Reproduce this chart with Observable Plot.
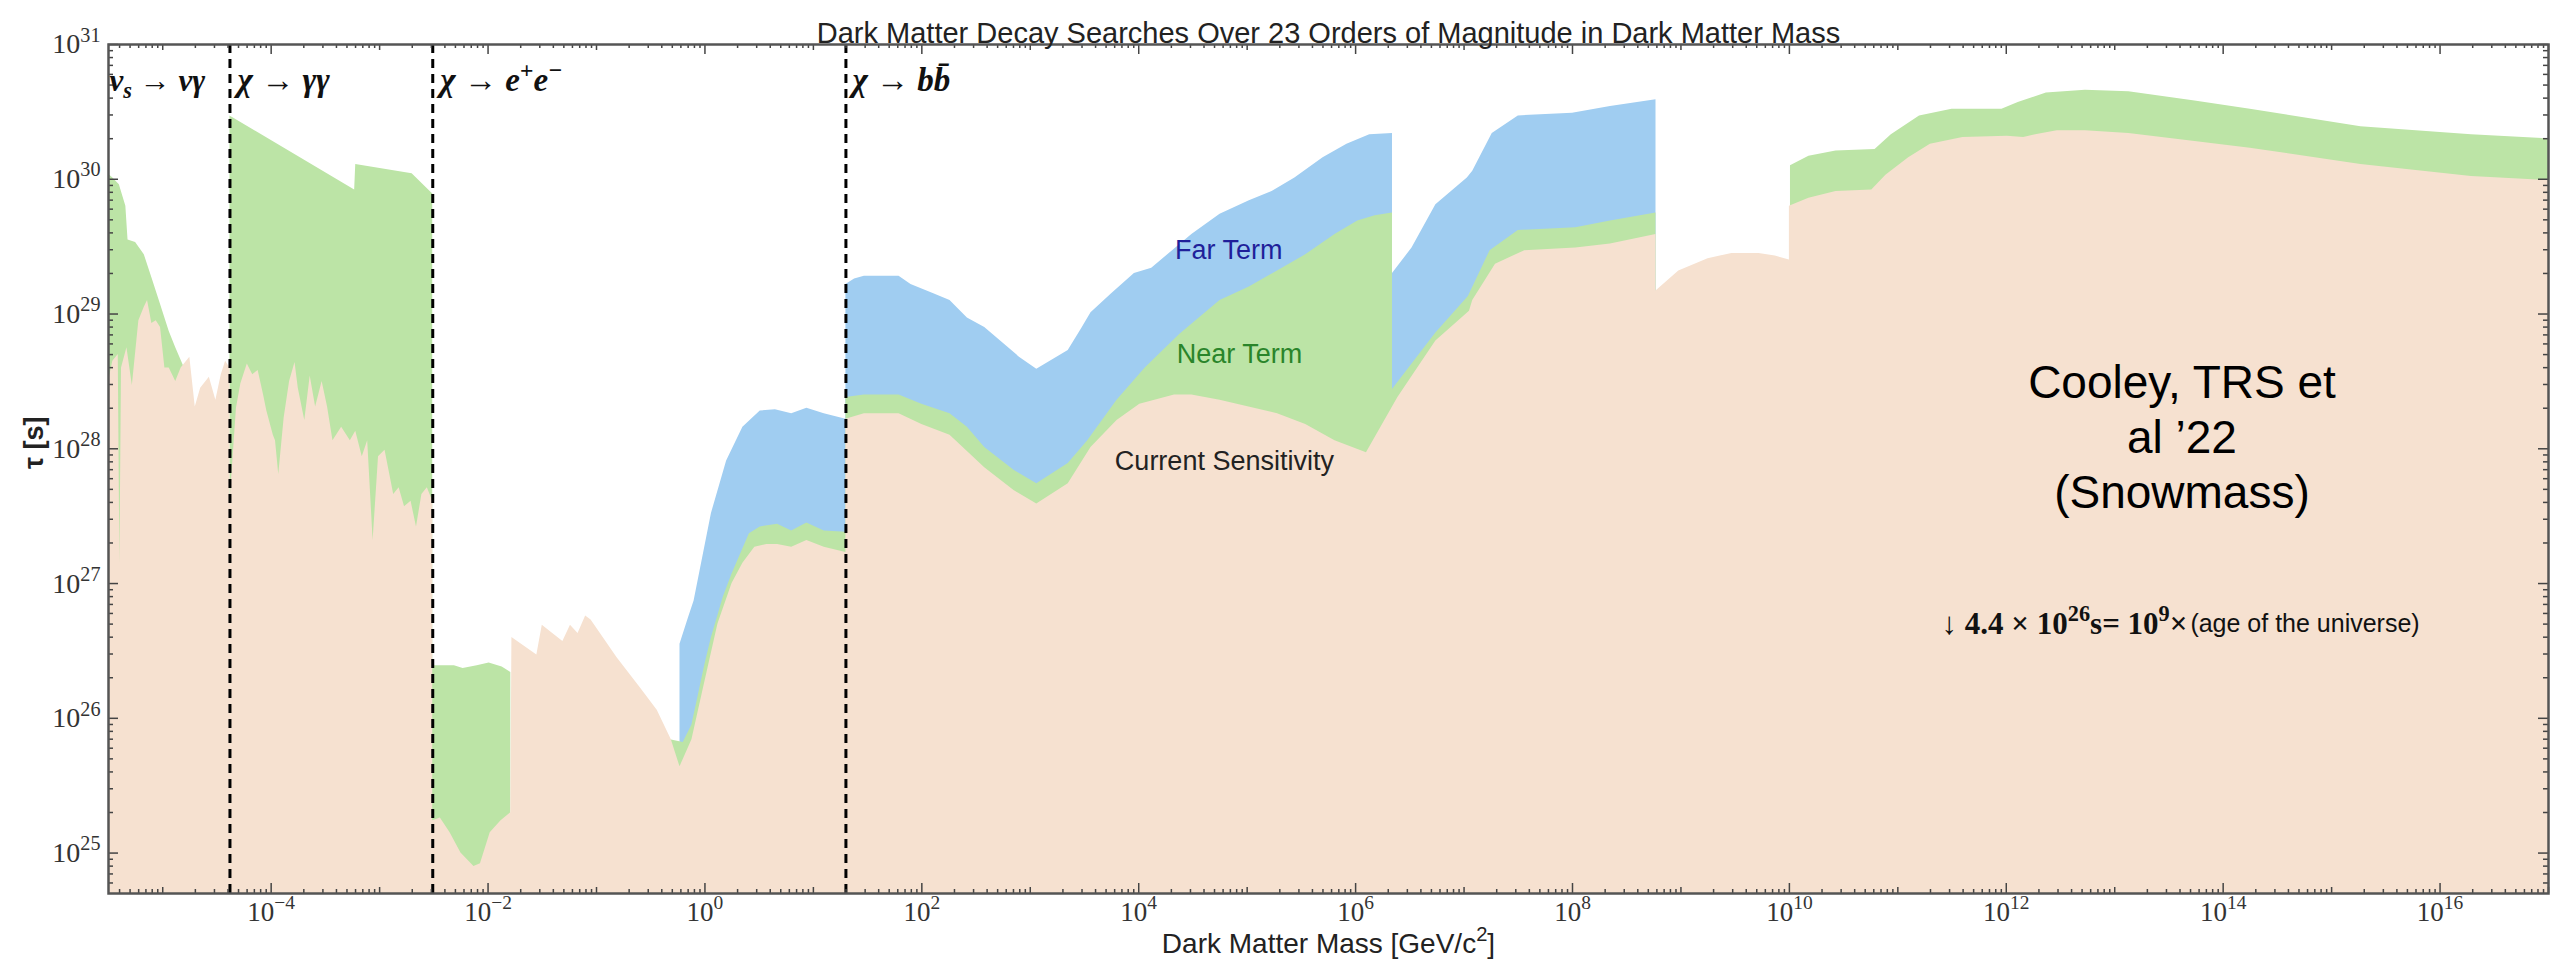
<!DOCTYPE html>
<html>
<head>
<meta charset="utf-8">
<script src="https://cdn.jsdelivr.net/npm/d3@7"></script>
<script src="https://cdn.jsdelivr.net/npm/@observablehq/plot@0.6"></script>
<style>
  html, body { margin: 0; padding: 0; background: #fff; overflow: hidden; }
  #chart { width: 2567px; height: 967px; }
</style>
</head>
<body>
<div id="chart"></div>
<script>
// ---- Data (log10 of mass in GeV/c^2, log10 of lifetime in s) ----
const titleText = "Dark Matter Decay Searches Over 23 Orders of Magnitude in Dark Matter Mass";
const xLabelText = "Dark Matter Mass [GeV/c^{2}]";
const yLabelText = "τ [s]";

const channelLabels = ["ν_{s} → νγ", "χ → γγ", "χ → e^{+}e^{−}", "χ → bb\u0304"];
const channelLabelExp = [-5.49, -4.31, -2.44, 1.36];
const channelBoundaryExp = [-4.38, -2.51, 1.30];

const xTickExp = [-4, -2, 0, 2, 4, 6, 8, 10, 12, 14, 16];
const yTickExp = [25, 26, 27, 28, 29, 30, 31];

// Current sensitivity [log10 m, log10 tau]
const currentSensitivity = [
  [-5.52, 29.25], [-5.50, 28.50], [-5.46, 28.65], [-5.41, 28.70], [-5.395, 27.15], [-5.38, 28.60],
  [-5.33, 28.75], [-5.28, 28.47], [-5.22, 28.95], [-5.17, 29.05], [-5.14, 29.10], [-5.10, 28.93],
  [-5.06, 28.95], [-5.02, 28.90], [-4.98, 28.60], [-4.94, 28.60], [-4.88, 28.50], [-4.83, 28.60],
  [-4.78, 28.65], [-4.75, 28.68], [-4.70, 28.31], [-4.65, 28.45], [-4.57, 28.53], [-4.51, 28.36],
  [-4.46, 28.55], [-4.42, 28.65], [-4.38, 28.60],
  [-4.38, 27.60], [-4.32, 28.30], [-4.28, 28.48], [-4.22, 28.63], [-4.17, 28.55], [-4.12, 28.58],
  [-4.07, 28.40], [-4.04, 28.28], [-3.98, 28.10], [-3.96, 28.06], [-3.93, 27.81], [-3.88, 28.23],
  [-3.83, 28.50], [-3.78, 28.64], [-3.75, 28.45], [-3.69, 28.21], [-3.64, 28.54], [-3.59, 28.31],
  [-3.53, 28.50], [-3.48, 28.31], [-3.43, 28.06], [-3.35, 28.16], [-3.27, 28.06], [-3.22, 28.13],
  [-3.16, 27.94], [-3.11, 28.06], [-3.06, 27.32], [-3.01, 27.94], [-2.95, 27.99], [-2.87, 27.66],
  [-2.82, 27.71], [-2.77, 27.57], [-2.71, 27.61], [-2.66, 27.42], [-2.61, 27.66], [-2.56, 27.71],
  [-2.51, 27.61],
  [-2.51, 25.24], [-2.44, 25.26], [-2.35, 25.15], [-2.25, 25.00], [-2.13, 24.90], [-2.07, 24.92],
  [-1.98, 25.15], [-1.88, 25.24], [-1.79, 25.30],
  [-1.78, 26.60], [-1.55, 26.47], [-1.50, 26.69], [-1.31, 26.57], [-1.24, 26.69], [-1.17, 26.63],
  [-1.10, 26.76], [-1.05, 26.73], [-0.81, 26.45], [-0.60, 26.23], [-0.44, 26.06], [-0.31, 25.84],
  [-0.23, 25.64], [-0.12, 25.84], [-0.02, 26.20], [0.12, 26.70], [0.25, 27.00], [0.35, 27.15],
  [0.46, 27.27], [0.57, 27.29], [0.67, 27.29], [0.80, 27.27], [0.94, 27.32], [1.10, 27.27], [1.30, 27.23],
  [1.30, 28.22], [1.47, 28.26], [1.79, 28.26], [2.00, 28.18], [2.26, 28.10], [2.58, 27.86],
  [2.85, 27.69], [3.06, 27.59], [3.35, 27.74], [3.56, 28.01], [3.80, 28.21], [4.01, 28.33],
  [4.33, 28.40], [4.49, 28.40], [4.75, 28.36], [5.28, 28.26], [5.54, 28.18], [5.81, 28.06],
  [6.10, 27.97], [6.39, 28.38], [6.74, 28.80], [7.05, 29.02], [7.08, 29.10], [7.29, 29.37],
  [7.56, 29.47], [8.03, 29.49], [8.35, 29.52], [8.77, 29.59],
  [8.77, 29.17], [8.98, 29.32], [9.25, 29.41], [9.47, 29.45], [9.72, 29.45], [9.87, 29.43], [10.00, 29.40],
  [10.00, 29.80], [10.18, 29.86], [10.43, 29.91], [10.76, 29.92], [10.89, 30.03], [11.10, 30.16],
  [11.30, 30.26], [11.60, 30.31], [12.01, 30.32], [12.16, 30.31], [12.27, 30.33], [12.47, 30.36],
  [12.73, 30.36], [13.13, 30.34], [13.74, 30.28], [14.25, 30.23], [15.27, 30.11], [16.29, 30.02],
  [17.00, 29.99]
];

// Near term [log10 m, log10 tau, segment]
const nearTerm = [
  [-5.52, 30.05, 1], [-5.46, 30.01, 1], [-5.40, 29.96, 1], [-5.34, 29.80, 1], [-5.32, 29.55, 1],
  [-5.25, 29.53, 1], [-5.17, 29.44, 1], [-5.10, 29.27, 1], [-5.02, 29.07, 1], [-4.94, 28.87, 1],
  [-4.88, 28.75, 1], [-4.80, 28.60, 1],
  [-4.38, 30.47, 2], [-3.23, 29.92, 2], [-3.22, 30.11, 2], [-2.70, 30.04, 2], [-2.51, 29.89, 2],
  [-2.51, 26.39, 2], [-2.31, 26.39, 2], [-2.23, 26.37, 2], [-2.10, 26.39, 2], [-1.99, 26.41, 2],
  [-1.87, 26.38, 2], [-1.79, 26.34, 2],
  [-0.32, 25.84, 3], [-0.20, 25.82, 3], [-0.12, 25.95, 3], [0.00, 26.40, 3], [0.06, 26.60, 3],
  [0.17, 26.90, 3], [0.25, 27.07, 3], [0.41, 27.37, 3], [0.51, 27.42, 3], [0.67, 27.44, 3],
  [0.80, 27.39, 3], [0.94, 27.45, 3], [1.10, 27.39, 3], [1.30, 27.38, 3],
  [1.30, 28.38, 3], [1.47, 28.40, 3], [1.79, 28.40, 3], [2.00, 28.33, 3], [2.26, 28.26, 3],
  [2.42, 28.16, 3], [2.58, 28.01, 3], [2.85, 27.84, 3], [3.06, 27.74, 3], [3.35, 27.89, 3],
  [3.53, 28.06, 3], [3.80, 28.36, 3], [4.06, 28.60, 3], [4.38, 28.85, 3], [4.75, 29.10, 3],
  [5.02, 29.20, 3], [5.28, 29.32, 3], [5.54, 29.44, 3], [5.81, 29.59, 3], [6.02, 29.69, 3],
  [6.18, 29.73, 3], [6.34, 29.75, 3],
  [6.34, 28.44, 3], [6.74, 28.86, 3], [7.04, 29.13, 3], [7.24, 29.47, 3], [7.50, 29.62, 3],
  [8.03, 29.64, 3], [8.35, 29.69, 3], [8.77, 29.75, 3],
  [10.01, 30.10, 4], [10.18, 30.17, 4], [10.43, 30.21, 4], [10.79, 30.22, 4], [10.94, 30.33, 4],
  [11.20, 30.47, 4], [11.50, 30.52, 4], [11.96, 30.52, 4], [12.11, 30.57, 4], [12.37, 30.64, 4],
  [12.73, 30.66, 4], [13.13, 30.65, 4], [13.74, 30.58, 4], [14.25, 30.52, 4], [15.27, 30.39, 4],
  [16.29, 30.33, 4], [17.00, 30.30, 4]
];

// Far term [log10 m, log10 tau]
const farTerm = [
  [-0.23, 26.55], [-0.15, 26.75], [-0.10, 26.87], [0.06, 27.52], [0.20, 27.91], [0.35, 28.16],
  [0.51, 28.28], [0.65, 28.29], [0.80, 28.26], [0.94, 28.30], [1.10, 28.26], [1.30, 28.22],
  [1.30, 29.22], [1.38, 29.26], [1.47, 29.28], [1.79, 29.28], [1.90, 29.22], [2.11, 29.15],
  [2.26, 29.10], [2.42, 28.97], [2.58, 28.90], [2.90, 28.68], [3.06, 28.59], [3.35, 28.73],
  [3.48, 28.90], [3.56, 29.01], [3.75, 29.15], [3.96, 29.30], [4.12, 29.34], [4.49, 29.59],
  [4.75, 29.74], [5.02, 29.84], [5.23, 29.91], [5.44, 30.01], [5.70, 30.16], [5.92, 30.26],
  [6.13, 30.33], [6.34, 30.34],
  [6.34, 29.30], [6.52, 29.49], [6.74, 29.81], [7.03, 30.01], [7.08, 30.06], [7.26, 30.34],
  [7.50, 30.47], [8.00, 30.49], [8.35, 30.54], [8.77, 30.59]
];

const seriesLabels = ["Far Term", "Near Term", "Current Sensitivity"];
const seriesLabelPos = [[4.83, 29.47], [4.93, 28.70], [4.79, 27.91]];
const seriesFill = ["#a0cdf1", "#bce4a6", "#f6e1d0"];
const seriesTextColor = ["#1f1f9a", "#2a852a", "#222222"];

const creditText = "Cooley, TRS et\nal ’22\n(Snowmass)";
const creditPos = [13.62, 28.10];
const ageMath = "↓ 4.4 × 10^{26}s= 10^{9}×";
const ageWords = "(age of the universe)";
const agePos = [13.67, 26.70];

// ---- Layout ----
const W = 2567, H = 967;
const mL = 108, mR = 19, mT = 44, mB = 74;
const frameW = W - mL - mR, frameH = H - mT - mB;
const xDomain = [10 ** -5.5, 10 ** 17];
const yDomain = [10 ** 24.7, 1e31];
const yBase = yDomain[0];

const pow10 = v => {
  const e = Math.round(Math.log10(v));
  return "10^{" + (e < 0 ? "−" + (-e) : e) + "}";
};

const toRows = (arr, name) => arr.map(d => ({m: 10 ** d[0], tau: 10 ** d[1], seg: name + (d[2] ?? 0)}));
const rowsCurrent = toRows(currentSensitivity, "c");
const rowsNear = toRows(nearTerm, "n");
const rowsFar = toRows(farTerm, "f");

// ticks
const xMajor = d3.range(-5, 18).map(e => 10 ** e);
const xLabeled = xTickExp.map(e => 10 ** e);
const xOdd = xMajor.filter(v => !xTickExp.includes(Math.round(Math.log10(v))));
const xMinor = [];
for (let e = -6; e <= 16; e++) for (let s = 2; s <= 9; s++) {
  const v = s * 10 ** e;
  if (v > xDomain[0] && v < xDomain[1]) xMinor.push(v);
}
const yMajor = yTickExp.map(e => 10 ** e);
const yMinor = [];
for (let e = 24; e <= 30; e++) for (let s = 2; s <= 9; s++) {
  const v = s * 10 ** e;
  if (v > yDomain[0] && v < yDomain[1]) yMinor.push(v);
}
const tickColor = "#444";
const xTickMarks = (vals, len) => [
  Plot.tickX(vals, {x: d => d, insetTop: frameH - len, stroke: tickColor, strokeWidth: 1.5}),
  Plot.tickX(vals, {x: d => d, insetBottom: frameH - len, stroke: tickColor, strokeWidth: 1.5})
];
const yTickMarks = (vals, len) => [
  Plot.tickY(vals, {y: d => d, insetRight: frameW - len, stroke: tickColor, strokeWidth: 1.5}),
  Plot.tickY(vals, {y: d => d, insetLeft: frameW - len, stroke: tickColor, strokeWidth: 1.5})
];

const serif = "'Liberation Serif', 'DejaVu Serif', serif";
const sans = "'Liberation Sans', Arial, Helvetica, sans-serif";

const chart = Plot.plot({
  width: W, height: H,
  marginLeft: mL, marginRight: mR, marginTop: mT, marginBottom: mB,
  style: {background: "#fff", fontFamily: sans},
  x: {type: "log", domain: xDomain},
  y: {type: "log", domain: yDomain},
  marks: [
    Plot.areaY(rowsFar, {x: "m", y1: yBase, y2: "tau", z: "seg", fill: seriesFill[0], clip: true}),
    Plot.areaY(rowsNear, {x: "m", y1: yBase, y2: "tau", z: "seg", fill: seriesFill[1], clip: true}),
    Plot.areaY(rowsCurrent, {x: "m", y1: yBase, y2: "tau", z: "seg", fill: seriesFill[2], clip: true}),
    Plot.ruleX(channelBoundaryExp, {x: d => 10 ** d, stroke: "#000", strokeWidth: 3, strokeDasharray: "9,6"}),
    ...xTickMarks(xLabeled, 10),
    ...xTickMarks(xOdd, 6),
    ...xTickMarks(xMinor, 4),
    ...yTickMarks(yMajor, 10),
    ...yTickMarks(yMinor, 5),
    Plot.frame({stroke: "#555", strokeWidth: 2.5}),
    Plot.axisX({ticks: xLabeled, tickFormat: pow10, tickSize: 0, tickPadding: 8, fontSize: 27, fontFamily: serif, fill: "#333", label: null}),
    Plot.axisY({ticks: yMajor, tickFormat: pow10, tickSize: 0, tickPadding: 8, fontSize: 28, fontFamily: serif, fill: "#333", label: null}),
    // axis labels and title
    Plot.text([titleText], {frameAnchor: "top", dy: -22, fontSize: 29, fontFamily: sans, fill: "#222"}),
    Plot.text([xLabelText], {frameAnchor: "bottom", dy: 59, fontSize: 28, fontFamily: sans, fill: "#222"}),
    Plot.text([yLabelText], {frameAnchor: "left", dx: -74, rotate: -90, fontSize: 27, fontWeight: "bold", fontFamily: sans, fill: "#222"}),
    // decay channel labels
    Plot.text(channelLabels, {x: (d, i) => 10 ** channelLabelExp[i], y: 10 ** 30.73, textAnchor: "start", fontSize: (d, i) => (i === 0 ? 31 : 33), fontStyle: "italic", fontWeight: "bold", fontFamily: serif, fill: "#111"}),
    // series labels
    Plot.text(seriesLabels, {x: (d, i) => 10 ** seriesLabelPos[i][0], y: (d, i) => 10 ** seriesLabelPos[i][1], fill: (d, i) => seriesTextColor[i], fontSize: 27, fontFamily: sans}),
    // credit
    Plot.text([creditText], {x: 10 ** creditPos[0], y: 10 ** creditPos[1], fontSize: 46, lineHeight: 1.2, fontFamily: sans, fill: "#000"}),
    Plot.text([ageMath], {x: 10 ** agePos[0], y: 10 ** agePos[1], textAnchor: "end", fontSize: 31, fontWeight: "bold", fontFamily: serif, fill: "#111"}),
    Plot.text([ageWords], {x: 10 ** agePos[0], y: 10 ** agePos[1], textAnchor: "start", dx: 3, fontSize: 25, fontFamily: sans, fill: "#111"})
  ]
});
document.getElementById("chart").appendChild(chart);

// Render ^{...} and _{...} as real superscripts / subscripts
(function applyScripts(svg) {
  const ns = "http://www.w3.org/2000/svg";
  svg.querySelectorAll("text").forEach(el => {
    const targets = el.querySelector("tspan") ? Array.from(el.querySelectorAll("tspan")) : [el];
    const fs = parseFloat(getComputedStyle(el).fontSize) || 20;
    for (const t of targets) {
      const s = t.textContent;
      if (!/[\^_]\{/.test(s)) continue;
      t.textContent = "";
      const re = /([\^_])\{([^}]*)\}/g;
      let last = 0, m, shift = 0;
      const add = (txt, kind) => {
        const sp = document.createElementNS(ns, "tspan");
        sp.textContent = txt;
        let target = 0;
        if (kind === "^") { sp.setAttribute("font-size", (fs * 0.72) + "px"); target = -fs * 0.42; }
        else if (kind === "_") { sp.setAttribute("font-size", (fs * 0.72) + "px"); target = fs * 0.22; }
        const dy = target - shift;
        if (dy !== 0) sp.setAttribute("dy", dy);
        shift = target;
        t.appendChild(sp);
      };
      while ((m = re.exec(s))) {
        if (m.index > last) add(s.slice(last, m.index), null);
        add(m[2], m[1]);
        last = re.lastIndex;
      }
      if (last < s.length) add(s.slice(last), null);
    }
  });
})(chart);
</script>
</body>
</html>
